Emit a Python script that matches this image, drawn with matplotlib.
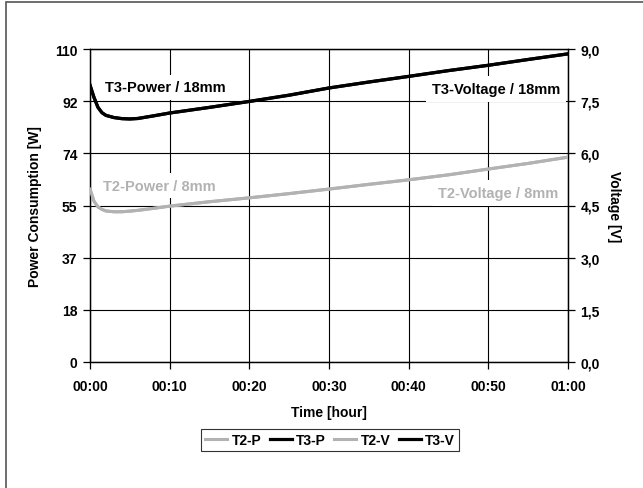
import matplotlib
matplotlib.use("Agg")
import matplotlib.pyplot as plt
from matplotlib.patches import Rectangle

plt.rcParams['font.family'] = ['Liberation Sans', 'DejaVu Sans']
plt.rcParams['font.weight'] = 'bold'

# time in minutes
time_min = [0, 0.5, 1, 1.5, 2, 3, 4, 5, 6, 8, 10, 15, 20, 25, 30, 35, 40, 45, 50, 55, 60]

t3_power = [97.3, 93.0, 89.5, 87.6, 86.7, 85.9, 85.5, 85.4, 85.6, 86.5, 87.5, 89.5, 91.6,
            93.8, 96.3, 98.4, 100.4, 102.4, 104.3, 106.3, 108.3]
t2_power = [60.8, 56.5, 54.5, 53.6, 53.1, 52.8, 52.8, 53.0, 53.3, 54.0, 54.8, 56.3, 57.7,
            59.2, 60.8, 62.4, 64.0, 65.8, 67.8, 69.8, 72.0]
t3_voltage = [7.96, 7.61, 7.32, 7.17, 7.09, 7.03, 7.00, 6.99, 7.00, 7.08, 7.16, 7.32, 7.49,
              7.67, 7.88, 8.05, 8.21, 8.38, 8.53, 8.70, 8.86]
t2_voltage = [4.97, 4.62, 4.46, 4.39, 4.34, 4.32, 4.32, 4.34, 4.36, 4.42, 4.48, 4.61, 4.72,
              4.84, 4.97, 5.11, 5.24, 5.38, 5.55, 5.71, 5.89]

x_ticks = [0, 10, 20, 30, 40, 50, 60]
x_labels = ["00:00", "00:10", "00:20", "00:30", "00:40", "00:50", "01:00"]
y_left_ticks = [0, 110/6, 220/6, 55, 440/6, 550/6, 110]
y_left_labels = ["0", "18", "37", "55", "74", "92", "110"]
y_right_ticks = [0, 1.5, 3.0, 4.5, 6.0, 7.5, 9.0]
y_right_labels = ["0,0", "1,5", "3,0", "4,5", "6,0", "7,5", "9,0"]

GRAY = '#b2b2b2'
fs = 10
fs_lab = 10.5

fig = plt.figure(figsize=(6.43, 4.89), dpi=100)
fig.patches.append(Rectangle((6/643, -0.1), 2.0, 1 - 3/489 + 0.1, transform=fig.transFigure,
                             fill=False, edgecolor='#555555', linewidth=1.2, zorder=-1))

ax = fig.add_axes([90/643, 1 - 363/489, 478/643, 313/489])
ax2 = ax.twinx()

ax.set_xlim(0, 60)
ax.set_ylim(0, 110)
ax2.set_ylim(0, 9)

ax.set_xticks(x_ticks)
ax.set_xticklabels(x_labels, fontsize=fs, fontweight='bold')
ax.set_yticks(y_left_ticks)
ax.set_yticklabels(y_left_labels, fontsize=fs, fontweight='bold')
ax2.set_yticks(y_right_ticks)
ax2.set_yticklabels(y_right_labels, fontsize=fs, fontweight='bold')

ax.grid(True, color='black', linewidth=0.8)
ax.set_axisbelow(True)
for a in (ax, ax2):
    for s in a.spines.values():
        s.set_linewidth(0.9)
    a.tick_params(length=5, width=0.9, pad=4)
ax.tick_params(axis='x', pad=7)

l1, = ax.plot(time_min, t2_power, color=GRAY, lw=2.2, label='T2-P', zorder=3)
l2, = ax.plot(time_min, t3_power, color='black', lw=2.3, label='T3-P', zorder=3)
l3, = ax2.plot(time_min, t2_voltage, color=GRAY, lw=2.2, label='T2-V', zorder=3)
l4, = ax2.plot(time_min, t3_voltage, color='black', lw=2.3, label='T3-V', zorder=3)

ax.set_xlabel('Time [hour]', fontsize=fs, fontweight='bold', labelpad=9)
ax.set_ylabel('Power Consumption [W]', fontsize=fs, fontweight='bold', labelpad=9)
ax2.set_ylabel('Voltage [V]', fontsize=fs, fontweight='bold', rotation=-90, labelpad=15)

box = dict(facecolor='white', edgecolor='none', pad=4)
ax.text(1.9, 96.6, 'T3-Power / 18mm', fontsize=fs_lab, fontweight='bold', color='black',
        ha='left', va='center', bbox=box, zorder=4)
ax.text(1.6, 61.9, 'T2-Power / 8mm', fontsize=fs_lab, fontweight='bold', color=GRAY,
        ha='left', va='center', bbox=box, zorder=4)
ax2.text(59.0, 7.85, 'T3-Voltage / 18mm', fontsize=fs_lab, fontweight='bold', color='black',
         ha='right', va='center', bbox=box, zorder=4)
ax2.text(58.8, 4.86, 'T2-Voltage / 8mm', fontsize=fs_lab, fontweight='bold', color=GRAY,
         ha='right', va='center', bbox=box, zorder=4)

leg = fig.legend(handles=[l1, l2, l3, l4], loc='center', bbox_to_anchor=(330/643, 1 - 441/489),
                 ncol=4, fontsize=fs, frameon=True, fancybox=False, handlelength=1.6,
                 handletextpad=0.3, columnspacing=0.6, borderpad=0.3, borderaxespad=0)
leg.get_frame().set_edgecolor('black')
leg.get_frame().set_linewidth(0.8)
for t in leg.get_texts():
    t.set_fontweight('bold')

fig.savefig('out.png', dpi=100)
